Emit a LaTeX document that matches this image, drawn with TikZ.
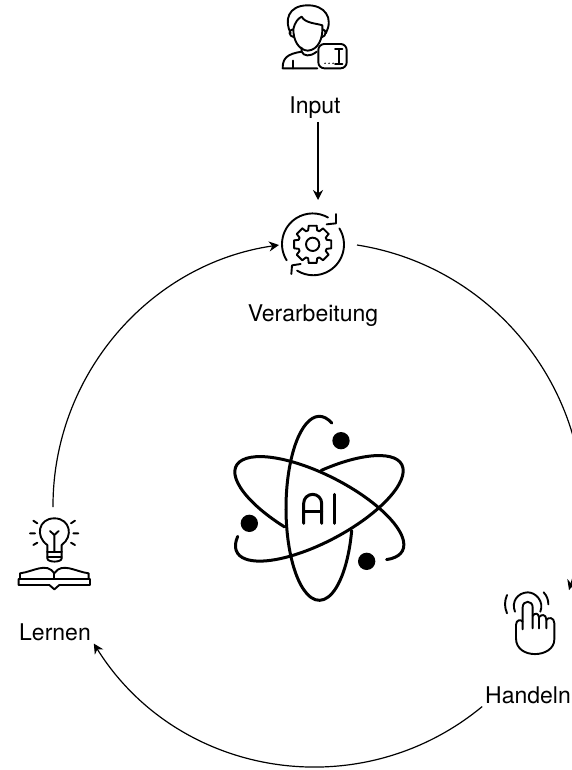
\documentclass[tikz,border=0pt]{standalone}
\usepackage{fontspec}
\setmainfont{TeX Gyre Heros}
\usepackage{tikz}
\usetikzlibrary{arrows.meta}
\tikzset{
	spot/.style 2 args={rectangle,inner sep=0pt,outer sep=0pt,minimum width=#1,minimum height=#2},
	lbl/.style={inner sep=3pt,outer sep=0pt,font=\fontsize{23}{27}\selectfont},
	flow/.style={line width=1.2pt,-{Stealth[length=10pt,width=10pt]}},
	icon/.style={line width=1.9pt,line cap=round,line join=round},
	atom/.style={line width=3pt,line cap=round,line join=round}
}
\begin{document}
\begin{tikzpicture}[x=1pt,y=1pt,yscale=-1]
	\useasboundingbox (0,0) rectangle (571,770);

	\node [lbl] (input) at (315,108) {Input};
	\node [lbl] (verarbeitung) at (313,316) {Verarbeitung};
	\node [lbl] (lernen) at (55,632) {Lernen};
	\node [lbl] (handeln) at (528,695) {Handeln};
	\node [spot={78pt}{90pt}] (gear) at (318,245) {};
	\node [spot={60pt}{90pt}] (bulb) at (53,552) {};
	\node [spot={82pt}{70pt}] (hand) at (528,625) {};

	\draw [flow] (input.south -| gear.north) -- (gear.north);
	\draw [flow] (gear.east) to[bend right=49.5,looseness=1.03] (hand.north east);
	\draw [flow] (handeln.south west) to[bend right=48.8,looseness=1.03] (lernen.south east);
	\draw [flow] (bulb.north) to[bend right=41,looseness=.97] (gear.west);

	% person
	\begin{scope}[shift={(260,0)},scale=1/3,icon]
		\draw (92,100) .. controls (72,60) and (85,18) .. (140,16) .. controls (195,14) and (222,55) .. (197,100);
		\draw (100,88) .. controls (105,65) and (115,55) .. (125,50) .. controls (135,70) and (170,70) .. (187,76) .. controls (190,115) and (175,150) .. (143,152) .. controls (115,150) and (100,120) .. (100,88);
		\draw (98,88) .. controls (85,90) and (85,108) .. (102,112);
		\draw (188,88) .. controls (200,90) and (200,108) .. (185,112);
		\draw (125,143) -- (125,155) .. controls (130,168) and (150,172) .. (170,155);
		\draw (172,205) -- (68,205) .. controls (68,175) and (80,162) .. (125,155);
		\draw (100,205) -- (100,182);
		\draw [rounded corners=6pt] (175,132) rectangle (260,205);
		\draw (225,147) -- (247,147) (236,147) -- (236,191) (225,191) -- (247,191);
		\foreach \x in {195,207,219}
			\fill (\x,190) circle (2.5);
	\end{scope}

	% gear with arrows
	\begin{scope}[shift={(260,190)},scale=1/3,icon]
		\begin{scope}[shift={(158,163)}]
			\draw (0,0) circle (20);
			\foreach \a in {0,45,...,315}
				\draw (\a+12:57) -- (\a-12:57) -- (\a-18:44) -- (\a-27:44) -- (\a-33:57);
		\end{scope}
		\draw (80,211) arc[start angle=148,end angle=300,radius=92];
		\draw (238,115) arc[start angle=-32,end angle=122,radius=92];
		\draw (228,72) -- (228,100) -- (200,103);
		\draw (94,252) -- (96,226) -- (122,222);
	\end{scope}

	% atom
	\begin{scope}[shift={(220,390)},scale=1/3,atom]
		\begin{scope}[shift={(298,355)}]
			\draw (-68:100 and 276) arc[start angle=-68,end angle=-346,x radius=100,y radius=276];
			\begin{scope}[rotate=-28]
				\draw (-78:280 and 100) arc[start angle=-78,end angle=204,x radius=280,y radius=100];
			\end{scope}
			\begin{scope}[rotate=27]
				\draw (104:280 and 100) arc[start angle=104,end angle=387,x radius=280,y radius=100];
			\end{scope}
		\end{scope}
		\fill (363,152) circle (26);
		\fill (88,400) circle (26);
		\fill (440,514) circle (26);
		\draw [rounded corners=9pt] (251,400) -- (251,313) -- (305,313) -- (305,400);
		\draw (251,364) -- (305,364);
		\draw (343,313) -- (343,400);
	\end{scope}

	% bulb and book
	\begin{scope}[shift={(0,450)},scale=1/3,icon]
		\draw (142,305) -- (142,285) .. controls (105,260) and (115,205) .. (163,205) .. controls (211,205) and (221,260) .. (185,285) -- (185,305);
		\draw (142,305) -- (185,305) (142,320) -- (185,320);
		\draw (142,305) -- (142,325) .. controls (142,338) and (185,338) .. (185,325) -- (185,305);
		\draw (163,305) -- (163,255) (150,243) -- (163,255) -- (176,243);
		\draw (100,212) -- (112,220) (90,250) -- (105,250) (100,285) -- (112,278);
		\draw (225,212) -- (213,220) (235,250) -- (220,250) (225,285) -- (213,278);
		\draw (60,385) -- (60,370) .. controls (100,365) and (140,335) .. (163,370) .. controls (186,335) and (226,365) .. (266,370) -- (266,385);
		\draw (163,370) -- (163,387);
		\draw (56,387) -- (270,387) -- (270,405) -- (178,405) -- (163,418) -- (148,405) -- (56,405) -- cycle;
	\end{scope}

	% hand
	\begin{scope}[shift={(471,560)},scale=1/3,icon]
		\draw (155,208) -- (155,142) .. controls (155,120) and (185,120) .. (185,142) -- (185,205);
		\draw (185,168) .. controls (190,158) and (203,158) .. (204,172) -- (204,205);
		\draw (204,172) .. controls (210,162) and (225,162) .. (226,178) -- (226,205);
		\draw (226,180) .. controls (232,170) and (250,172) .. (250,190) -- (250,238) .. controls (250,295) and (135,300) .. (135,235) -- (135,195) .. controls (135,178) and (150,178) .. (155,185);
		\draw (132,155) .. controls (120,125) and (140,98) .. (170,97) .. controls (195,97) and (220,125) .. (208,155);
		\draw (108,160) .. controls (100,140) and (100,125) .. (108,105);
		\draw (218,97) .. controls (228,108) and (232,120) .. (232,133);
	\end{scope}
\end{tikzpicture}
\end{document}
